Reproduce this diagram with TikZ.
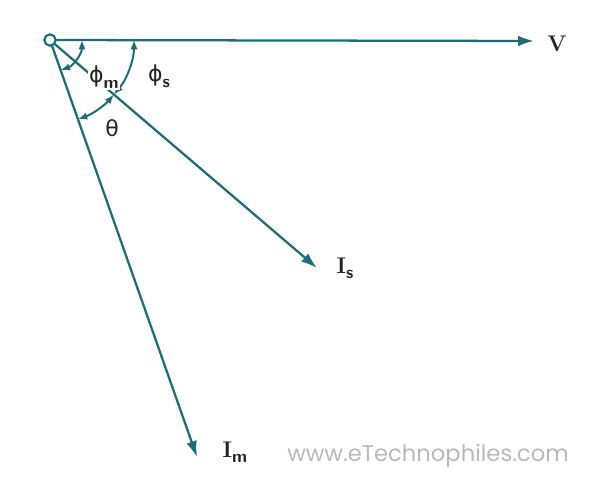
\documentclass[tikz,border=0pt]{standalone}
\usepackage{fontspec}
\newfontfamily\wmfont{Poppins}
\newfontfamily\grk{DejaVu Sans}
\usetikzlibrary{arrows.meta,calc}
\definecolor{phasor}{RGB}{28,108,124}
\definecolor{txt}{RGB}{35,35,35}
\definecolor{wm}{RGB}{185,185,185}
\tikzset{
  vec/.style={draw=phasor, line width=1.7pt, -{Latex[length=12pt,width=8pt]}},
  ang/.style={draw=phasor, line width=1.5pt, {Latex[length=7pt,width=5.5pt]}-{Latex[length=7pt,width=5.5pt]}},
  lbl/.style={text=txt, font=\fontsize{17}{19}\selectfont\bfseries, inner sep=1pt},
  glbl/.style={text=txt, font=\grk\fontsize{16.5}{18}\selectfont, inner sep=1pt, fill=white},
  origin/.style={circle, draw=phasor, fill=white, line width=1.6pt, minimum size=8.5pt, inner sep=0pt}
}
\newcommand{\subsf}[1]{\raisebox{-0.5ex}{\sffamily\fontsize{13}{13}\selectfont\bfseries #1}}
\begin{document}
\begin{tikzpicture}[x=0.75pt,y=-0.75pt]
\useasboundingbox (0,0) rectangle (600,485);
\coordinate (O) at (50,40);
\coordinate (Vt) at (534,41);
\coordinate (It) at (317,268);
\coordinate (Mt) at (197,457);
% phasors
\draw[vec] (O) -- (Vt);
\draw[vec] (O) -- (It);
\draw[vec] (O) -- (Mt);
% angle arcs
\draw[ang] ($(O)+(70.6:32)$) arc[start angle=70.6, end angle=0, radius=32];
\draw[ang] ($(O)+(0:84)$) arc[start angle=0, end angle=40.5, radius=84];
\draw[ang] ($(O)+(40.5:84)$) arc[start angle=40.5, end angle=70.6, radius=84];
% labels
\node[glbl] (pm) at (104,77) {ϕ\subsf{m}};
\node[glbl] (ps) at (159,76) {ϕ\subsf{s}};
\node[glbl, fill=none] (th) at (112,128) {θ};
\node[lbl] (V) at (557,44) {V};
\node[lbl] (Is) at (345,268) {I\subsf{s}};
\node[lbl] (Im) at (235,452) {I\subsf{m}};
\node[text=wm, font=\wmfont\fontsize{17}{19}\selectfont] (wm) at (428,456) {www.eTechnophiles.com};
\node[origin] (Oc) at (O) {};
\end{tikzpicture}
\end{document}
